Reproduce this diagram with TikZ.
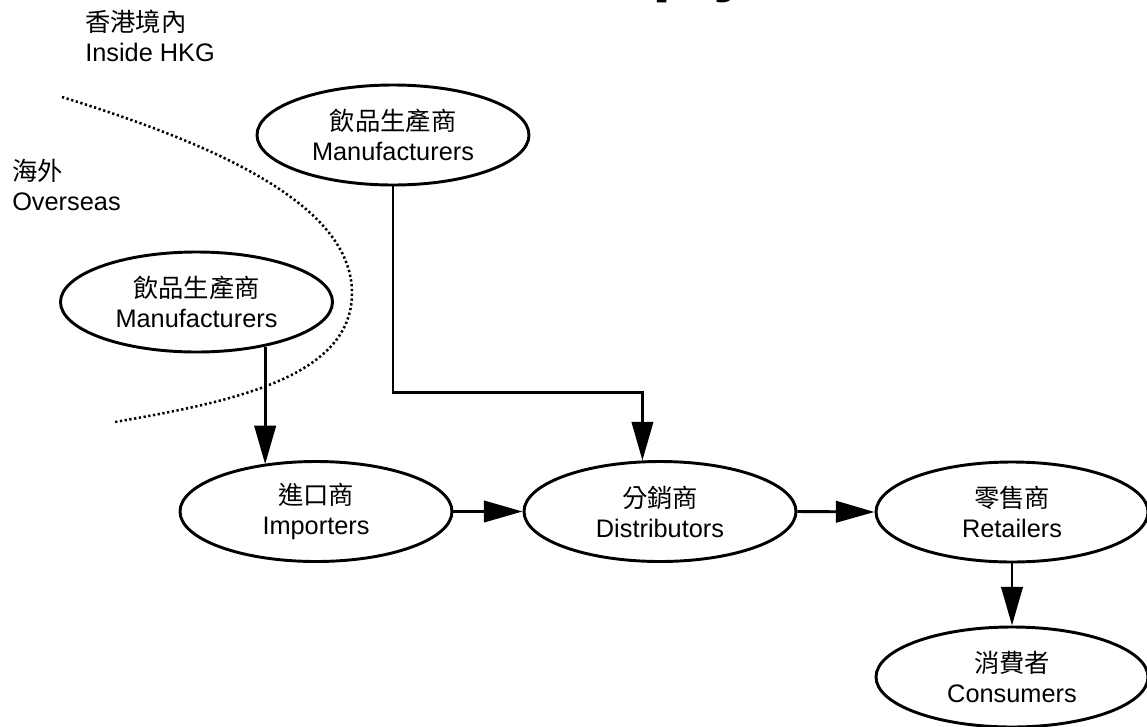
\documentclass[tikz,border=0pt]{standalone}
\usepackage{fontspec}
\setmainfont{Liberation Sans}
\newfontfamily\cjk{Noto Sans CJK TC}
\usetikzlibrary{arrows.meta,shapes.geometric}

\tikzset{
  party/.style={ellipse, draw, line width=2.2pt, fill=white,
    minimum width=204pt, minimum height=75pt, inner sep=0pt,
    align=center, font=\fontsize{19}{22.5}\selectfont},
  flow/.style={line width=2.2pt,
    -{Triangle[length=29pt,width=16pt]}},
  border/.style={line width=1.9pt, dash pattern=on 1.7pt off 1.9pt},
  region/.style={anchor=north west, inner sep=0pt, align=left,
    font=\fontsize{19}{22.5}\selectfont}
}

\begin{document}
\begin{tikzpicture}[x=0.75pt, y=-0.75pt]
  \useasboundingbox (0,0) rectangle (1147,726);
  \clip (0,0) rectangle (1147,726);

  % heading, mostly above the frame
  \node[anchor=base west, inner sep=0pt,
        font=\bfseries\fontsize{52}{60}\selectfont] (heading) at (652,-12) {ply};

  % region labels
  \node[region] (hk) at (85,10) {{\cjk 香港境內}\\Inside HKG};
  \node[region] (os) at (12,159) {{\cjk 海外}\\Overseas};

  % border between Hong Kong and overseas
  \draw[border] (62,97) .. controls (200,140) and (352,200) .. (352,293)
                        .. controls (352,378) and (230,402) .. (115,422);

  % supply chain members
  \node[party] (mfl)  at (393,135) {{\cjk 飲品生產商}\\Manufacturers};
  \node[party] (mfo)  at (196.5,302) {{\cjk 飲品生產商}\\Manufacturers};
  \node[party] (imp)  at (316,511.5) {{\cjk 進口商}\\Importers};
  \node[party] (dist) at (660,511.5) {{\cjk 分銷商}\\Distributors};
  \node[party] (ret)  at (1012,512) {{\cjk 零售商}\\Retailers};
  \node[party] (con)  at (1012,677) {{\cjk 消費者}\\Consumers};

  % flows
  \path (dist.109.6) ++(0,-68) coordinate (bend);
  \draw[flow] (mfl.south) |- (bend) -- (dist.109.6);
  \draw[flow] (mfo.-33.3) -- (mfo.-33.3 |- imp.139);
  \draw[flow] (imp.east) -- (dist.west);
  \draw[flow] (dist.east) -- (ret.west);
  \draw[flow] (ret.south) -- (con.north);
\end{tikzpicture}
\end{document}
